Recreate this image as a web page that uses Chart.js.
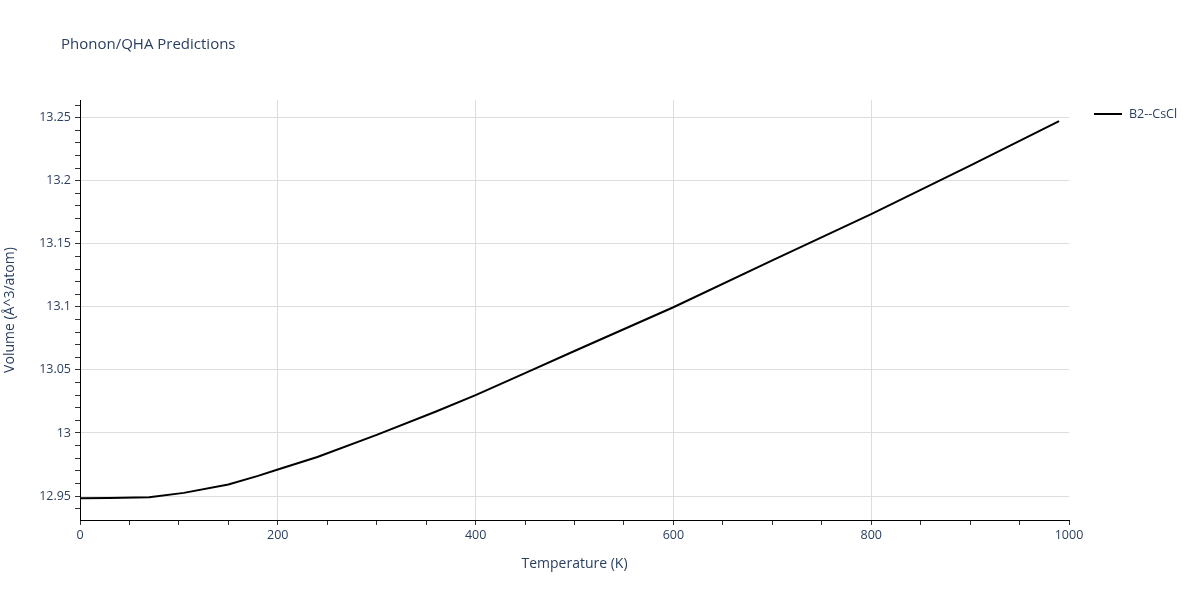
<!DOCTYPE html>
<html>
<head>
<meta charset="utf-8">
<title>Phonon/QHA Predictions</title>
<script src="https://cdn.jsdelivr.net/npm/chart.js@4.4.1/dist/chart.umd.min.js"></script>
<style>
    html, body { margin: 0; padding: 0; background: #fff; }
    #wrap { width: 1200px; height: 600px; }
</style>
</head>
<body>
<div id="wrap"><canvas id="qhaChart" width="1200" height="600"></canvas></div>
<script>
// --- Data ---
const temperatures = [0, 30, 70, 105, 150, 180, 200, 240, 300, 360, 400, 450, 500, 600, 700, 800, 900, 990];
const volumes = [12.9482, 12.9485, 12.949, 12.9525, 12.9592, 12.966, 12.971, 12.981, 12.9985, 13.017,
    13.030, 13.0475, 13.065, 13.0997, 13.1368, 13.1735, 13.2119, 13.2473];
const seriesName = 'B2--CsCl';

const xLabelTicks = [0, 200, 400, 600, 800, 1000];
const yLabelTicks = [12.95, 13, 13.05, 13.1, 13.15, 13.2, 13.25];
const xMinorStep = 50;
const yMinorStep = 0.01;

const textColor = '#2a3f5f';
const gridColor = '#dedede';
const fontFamily = '"Open Sans", "Noto Sans", sans-serif';

// minor tick positions (axis decoration only)
function stepTicks(from, to, step) {
    const out = [];
    const n = Math.round((to - from) / step);
    for (let i = 0; i <= n; i++) out.push(Math.round((from + i * step) * 1000) / 1000);
    return out;
}
const xAllTicks = stepTicks(0, 1000, xMinorStep);
const yAllTicks = stepTicks(12.94, 13.26, yMinorStep);

const isLabelled = (list, v) => list.some(t => Math.abs(t - v) < 1e-6);

// --- Title + legend drawn by hand, plotly-like ---
const decorPlugin = {
    id: 'decor',
    afterDraw(chart) {
        const ctx = chart.ctx;
        ctx.save();
        ctx.fillStyle = textColor;
        ctx.font = '15px ' + fontFamily;
        ctx.textBaseline = 'middle';
        ctx.textAlign = 'left';
        ctx.fillText('Phonon/QHA Predictions', 61, 45);

        const ds = chart.data.datasets[0];
        ctx.strokeStyle = ds.borderColor;
        ctx.lineWidth = 2;
        ctx.beginPath();
        ctx.moveTo(1094, 114);
        ctx.lineTo(1122, 114);
        ctx.stroke();
        ctx.font = '12.5px ' + fontFamily;
        ctx.fillText(ds.label, 1129, 114);
        ctx.restore();
    }
};

const ctx = document.getElementById('qhaChart').getContext('2d');
new Chart(ctx, {
    type: 'line',
    data: {
        datasets: [{
            label: seriesName,
            data: temperatures.map((t, i) => ({ x: t, y: volumes[i] })),
            borderColor: '#000000',
            borderWidth: 2,
            pointRadius: 0,
            tension: 0,
            fill: false
        }]
    },
    options: {
        responsive: false,
        animation: false,
        layout: { padding: { left: 0, top: 100, right: 131, bottom: 0 } },
        plugins: {
            legend: { display: false },
            title: { display: false },
            tooltip: { enabled: false }
        },
        scales: {
            x: {
                type: 'linear',
                min: 0,
                max: 1000,
                afterFit: scale => { scale.height = 80; },
                afterBuildTicks: scale => { scale.ticks = xAllTicks.map(v => ({ value: v })); },
                border: { color: '#000', width: 1 },
                grid: {
                    color: c => (c.tick && isLabelled(xLabelTicks, c.tick.value) && c.tick.value > 0 && c.tick.value < 1000) ? gridColor : 'rgba(0,0,0,0)',
                    tickColor: '#333',
                    tickLength: 5,
                    tickWidth: 1
                },
                ticks: {
                    autoSkip: false,
                    maxRotation: 0,
                    padding: 3,
                    color: textColor,
                    font: { family: fontFamily, size: 12.5 },
                    callback: v => isLabelled(xLabelTicks, v) ? String(v) : ''
                },
                title: {
                    display: true,
                    text: 'Temperature (K)',
                    color: textColor,
                    font: { family: fontFamily, size: 14 },
                    padding: { top: 0, bottom: 28 }
                }
            },
            y: {
                type: 'linear',
                min: 12.931,
                max: 13.264,
                afterFit: scale => { scale.width = 80; },
                afterBuildTicks: scale => { scale.ticks = yAllTicks.map(v => ({ value: v })); },
                border: { color: '#000', width: 1 },
                grid: {
                    color: c => (c.tick && isLabelled(yLabelTicks, c.tick.value)) ? gridColor : 'rgba(0,0,0,0)',
                    tickColor: '#333',
                    tickLength: 5,
                    tickWidth: 1
                },
                ticks: {
                    autoSkip: false,
                    padding: 4,
                    color: textColor,
                    font: { family: fontFamily, size: 12.5 },
                    callback: v => isLabelled(yLabelTicks, v) ? String(Math.round(v * 100) / 100) : ''
                },
                title: {
                    display: true,
                    text: 'Volume (Å^3/atom)',
                    color: textColor,
                    font: { family: fontFamily, size: 14 },
                    padding: { top: 2, bottom: 0 }
                }
            }
        }
    },
    plugins: [decorPlugin]
});
</script>
</body>
</html>
